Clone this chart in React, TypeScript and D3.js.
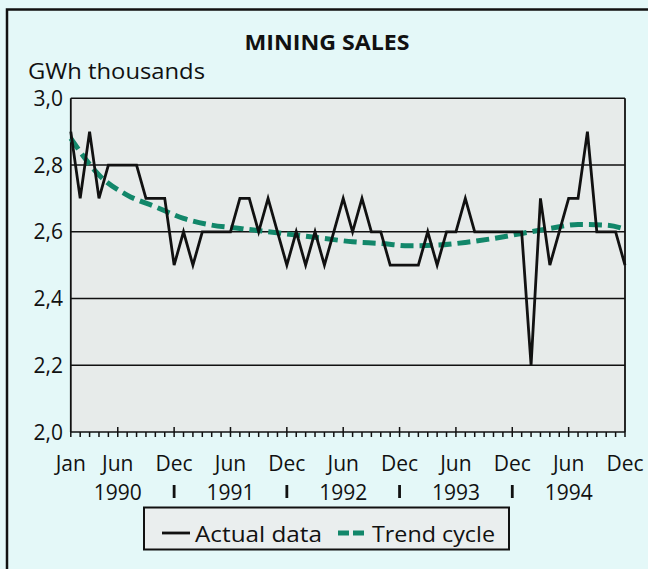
import React from "react";
import * as d3 from "d3";

const actual: number[] = [
  2.9, 2.7, 2.9, 2.7, 2.8, 2.8, 2.8, 2.8, 2.7, 2.7, 2.7, 2.5,
  2.6, 2.5, 2.6, 2.6, 2.6, 2.6, 2.7, 2.7, 2.6, 2.7, 2.6, 2.5,
  2.6, 2.5, 2.6, 2.5, 2.6, 2.7, 2.6, 2.7, 2.6, 2.6, 2.5, 2.5,
  2.5, 2.5, 2.6, 2.5, 2.6, 2.6, 2.7, 2.6, 2.6, 2.6, 2.6, 2.6,
  2.6, 2.2, 2.7, 2.5, 2.6, 2.7, 2.7, 2.9, 2.6, 2.6, 2.6, 2.5,
];

const trendMonths: number[] = [0, 3, 6, 9, 12, 15, 18, 21, 24, 27, 30, 33, 36, 39, 42, 45, 48, 51, 54, 57, 59];
const trendValues: number[] = [
  2.88, 2.77, 2.71, 2.675, 2.64, 2.62, 2.61, 2.6, 2.59, 2.58, 2.57,
  2.565, 2.558, 2.56, 2.568, 2.58, 2.595, 2.61, 2.622, 2.62, 2.608,
];

const yTicks: number[] = [2.0, 2.2, 2.4, 2.6, 2.8, 3.0];
const monthLabelPos: number[] = [0, 5, 11, 17, 23, 29, 35, 41, 47, 53, 59];
const monthLabels: string[] = ["Jan", "Jun", "Dec", "Jun", "Dec", "Jun", "Dec", "Jun", "Dec", "Jun", "Dec"];
const yearPos: number[] = [5, 17, 29, 41, 53];
const yearLabels: string[] = ["1990", "1991", "1992", "1993", "1994"];
const yearSeparators: number[] = [11, 23, 35, 47];

const FONT = "'Open Sans', 'Noto Sans', sans-serif";
const GREEN = "#12876a";
const INK = "#111";

export default function App() {
  const x = d3.scaleLinear().domain([0, 59]).range([70.8, 625]);
  const y = d3.scaleLinear().domain([2.0, 3.0]).range([432, 98.3]);

  const line = d3
    .line<number>()
    .x((_, i) => x(i))
    .y((d) => y(d));
  const trendLine = d3
    .line<number>()
    .x((_, i) => x(trendMonths[i]))
    .y((d) => y(d))
    .curve(d3.curveMonotoneX);

  const months = d3.range(0, 60);
  const major = new Set(monthLabelPos);

  return (
    <svg
      width={648}
      height={569}
      style={{ position: "absolute", left: 0, top: 0, fontFamily: FONT }}
    >
      <rect x={0} y={0} width={648} height={569} fill="#e4f8f8" />
      <rect x={7} y={9.5} width={700} height={700} fill="#e4f8f8" stroke={INK} strokeWidth={2.5} />
      <text x={327} y={50} textAnchor="middle" fontSize={22} fontWeight="bold" fill={INK} textLength={165} lengthAdjust="spacingAndGlyphs">
        MINING SALES
      </text>
      <text x={28} y={78.5} fontSize={21} fill={INK} textLength={177} lengthAdjust="spacingAndGlyphs" fontWeight={500}>
        GWh thousands
      </text>

      <rect x={x(0)} y={y(3)} width={x(59) - x(0)} height={y(2) - y(3)} fill="#e7ebea" />

      {yTicks.map((t) => (
        <g key={t}>
          <line x1={x(0)} x2={x(59)} y1={y(t)} y2={y(t)} stroke={INK} strokeWidth={1.6} />
          <text
            x={63}
            y={y(t)}
            dy="0.36em"
            textAnchor="end"
            fontSize={21}
            fontWeight={500}
            fill={INK}
          >
            {t.toFixed(1).replace(".", ",")}
          </text>
        </g>
      ))}
      <line x1={x(0)} x2={x(0)} y1={y(3)} y2={y(2)} stroke={INK} strokeWidth={1.8} />
      <line x1={x(59)} x2={x(59)} y1={y(3)} y2={y(2)} stroke={INK} strokeWidth={1.8} />

      {months.map((m) => (
        <line
          key={m}
          x1={x(m)}
          x2={x(m)}
          y1={major.has(m) && m !== 0 && m !== 59 ? y(2) - 5 : y(2)}
          y2={y(2) + 5}
          stroke={INK}
          strokeWidth={1.5}
        />
      ))}

      <path d={trendLine(trendValues) || ""} fill="none" stroke={GREEN} strokeWidth={5} strokeDasharray="13 6" />
      <path d={line(actual) || ""} fill="none" stroke={INK} strokeWidth={2.8} strokeLinejoin="miter" />

      {monthLabelPos.map((m, i) => (
        <text key={m} x={x(m)} y={471} textAnchor="middle" fontSize={21} fontWeight={500} fill={INK}>
          {monthLabels[i]}
        </text>
      ))}
      {yearPos.map((m, i) => (
        <text key={m} x={x(m)} y={500} textAnchor="middle" fontSize={21} fontWeight={500} fill={INK}>
          {yearLabels[i]}
        </text>
      ))}
      {yearSeparators.map((m) => (
        <line key={m} x1={x(m)} x2={x(m)} y1={485} y2={498} stroke={INK} strokeWidth={2.8} />
      ))}

      <rect x={144} y={507.5} width={365} height={42} fill="#eaeeee" stroke={INK} strokeWidth={2} />
      <line x1={162} x2={190} y1={533} y2={533} stroke={INK} strokeWidth={2.8} />
      <text x={195} y={542} fontSize={22} fontWeight={500} fill={INK} textLength={127} lengthAdjust="spacingAndGlyphs">Actual data</text>
      <line x1={338} x2={364} y1={533} y2={533} stroke={GREEN} strokeWidth={5} strokeDasharray="11 4" />
      <text x={372} y={542} fontSize={22} fontWeight={500} fill={INK} textLength={123} lengthAdjust="spacingAndGlyphs">Trend cycle</text>
    </svg>
  );
}
